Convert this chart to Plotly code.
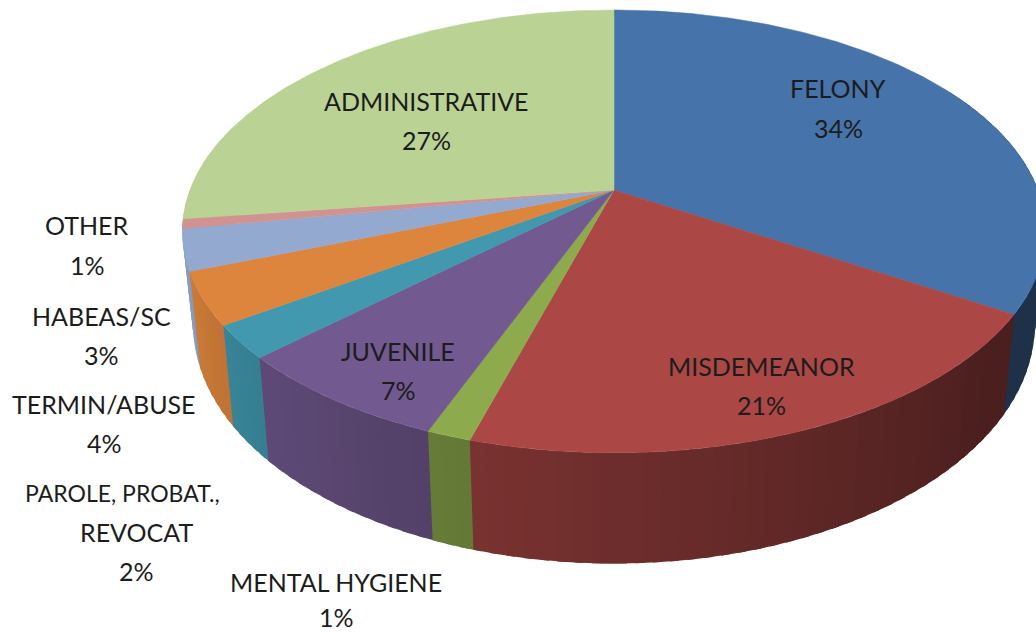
import numpy as np
import plotly.graph_objects as go

# ---- data (share of caseload) ----
categories = ["FELONY", "MISDEMEANOR", "MENTAL HYGIENE", "JUVENILE",
              "PAROLE, PROBAT., REVOCAT", "TERMIN/ABUSE", "HABEAS/SC", "OTHER",
              "ADMINISTRATIVE"]
values = [33.8, 20.7, 1.4, 7.1, 2.4, 3.8, 3.0, 0.7, 27.1]
colors = ["#4673AA", "#AB4745", "#8DAA4D", "#72598F", "#4198AF",
          "#DD853D", "#93A9CF", "#D19392", "#BBD295"]
label_lines = [["FELONY"], ["MISDEMEANOR"], ["MENTAL HYGIENE"], ["JUVENILE"],
               ["PAROLE, PROBAT.,", "REVOCAT"], ["TERMIN/ABUSE"], ["HABEAS/SC"],
               ["OTHER"], ["ADMINISTRATIVE"]]
label_x = [[838, 838], [761, 761], [336, 336], [398, 398],
           [122, 136, 136], [104, 104], [101, 101], [87, 87], [426, 426]]
label_y = [[88, 128], [366, 405], [582, 617], [351, 390],
           [493, 532, 571], [404, 443], [316, 355], [225, 265], [101, 140]]

# ---- projection of the tilted disc ----
CX, CY, A, B, K = 614.0, 190.0, 424.0, 213.7, 0.187
DEPTH, SHRINK = 90.0, 0.975


def top(theta):
    t = np.radians(theta)
    w = 1 + K * np.cos(t)
    return CX + A * np.sin(t) / w, CY - B * np.cos(t) / w


def bottom(theta):
    x, y = top(theta)
    t = np.radians(theta)
    w = 1 + K * np.cos(t)
    return CX + (x - CX) * SHRINK, y + DEPTH / w


def shade(hex_color, theta):
    f = float(np.clip(0.41 + (theta - 122) * 0.004, 0.43, 0.92))
    r, g, b = [int(hex_color[i:i + 2], 16) for i in (1, 3, 5)]
    return f"rgb({r * f:.0f},{g * f:.0f},{b * f:.0f})"


edges = np.concatenate([[0], np.cumsum(values)]) * 360.0 / sum(values)
fig = go.Figure()

# side walls, painted from the back round to the front; each strip runs on
# under the next one painted so that no seam shows between them
segments = []
for i, col in enumerate(colors):
    a0, a1 = edges[i], edges[i + 1]
    lo, hi = max(a0, 60.0), min(a1, 290.0)
    if hi <= lo:
        continue
    n = max(1, int(np.ceil((hi - lo) / 2.0)))
    grid = np.linspace(lo, hi, n + 1)
    for u, v in zip(grid[:-1], grid[1:]):
        segments.append((abs((u + v) / 2 - 180), u, v, col))
for _, u, v, col in sorted(segments, key=lambda s: -s[0]):
    mid = (u + v) / 2
    a, b = (u, v + 1.0) if mid < 180 else (u - 1.0, v)
    th = np.linspace(a, b, 4)
    xt, yt = top(th)
    xb, yb = bottom(th[::-1])
    c = shade(col, mid)
    fig.add_trace(go.Scatter(
        x=np.concatenate([xt, xb]).tolist(), y=np.concatenate([yt, yb]).tolist(),
        mode="lines", fill="toself", fillcolor=c,
        line=dict(color=c, width=0), hoverinfo="skip", showlegend=False))

# top faces
for i, col in enumerate(colors):
    th = np.linspace(edges[i], edges[i + 1], max(3, int((edges[i + 1] - edges[i]) * 2)))
    x, y = top(th)
    fig.add_trace(go.Scatter(
        x=[CX] + x.tolist() + [CX], y=[CY] + y.tolist() + [CY],
        mode="lines", fill="toself", fillcolor=col,
        line=dict(color=col, width=0.5), name=categories[i],
        text=categories[i], hoverinfo="text", showlegend=False))

# labels: one annotation per line, to hold the wide line spacing
for lines, xs, ys, v in zip(label_lines, label_x, label_y, values):
    texts = lines + [f"{round(v)}%"]
    for s, x, y in zip(texts, xs, ys):
        size = 23 if s.startswith("PAROLE") else 25
        fig.add_annotation(x=x, y=y, text=s, showarrow=False, xanchor="center",
                           yanchor="middle", font=dict(family="Lato", size=size, color="#1c1c1c"))

fig.update_layout(
    width=1036, height=632, margin=dict(l=0, r=0, t=0, b=0),
    paper_bgcolor="white", plot_bgcolor="white", showlegend=False,
    xaxis=dict(range=[0, 1036], visible=False, fixedrange=True),
    yaxis=dict(range=[632, 0], visible=False, fixedrange=True),
)
fig.write_html("out.html", config=dict(displayModeBar=False),
               post_script="document.body.style.margin='0';document.body.style.overflow='hidden';")
